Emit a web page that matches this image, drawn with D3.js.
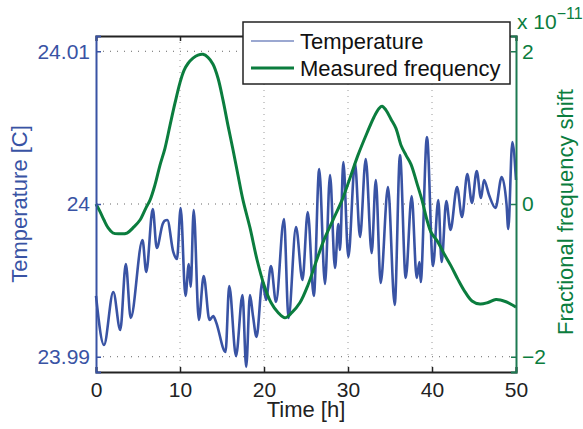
<!DOCTYPE html>
<html>
<head>
<meta charset="utf-8">
<script src="https://cdn.jsdelivr.net/npm/d3@7"></script>
<style>
  body { margin: 0; background: #fff; }
  text { font-family: "Liberation Sans", Arial, Helvetica, sans-serif; }
</style>
</head>
<body>
<div id="chart"></div>
<script>
// temperature trace (time in h, temperature in C)
const tempTime = [0, 0.95, 2.06, 2.89, 3.55, 4.13, 5.54, 5.98, 6.76, 7.23, 7.94, 8.15, 8.49, 9.20, 9.64,
  10.08, 10.65, 11.05, 11.27, 11.63, 12.24, 12.82, 13.51, 13.96, 14.29, 15.42, 15.86, 16.67, 17.44, 17.88,
  18.33, 18.69, 19.11, 19.82, 20.24, 20.83, 21.43, 22.38, 22.92, 23.81, 24.58, 25.21, 25.93, 26.57, 27.26,
  27.86, 28.45, 28.85, 29.05, 29.44, 30.04, 30.83, 31.43, 32.11, 32.82, 33.31, 33.89, 34.76, 35.56, 36.19,
  36.87, 37.58, 38.18, 38.51, 38.65, 39.40, 40.12, 40.75, 41.15, 41.70, 42.20, 42.98, 43.57, 44.20, 44.76,
  45.32, 45.83, 46.19, 46.79, 47.56, 48.30, 48.87, 49.08, 49.56, 50];
const tempValue = [23.99398, 23.99077, 23.99424, 23.99175, 23.99607, 23.99254, 23.99764, 23.99555, 23.99967, 23.99712,
  23.99869, 23.99889, 23.99895, 23.99686, 23.99640, 23.99974, 23.99398, 23.99607, 23.99457, 23.99961,
  23.99241, 23.99529, 23.99241, 23.99267, 23.99228, 23.99031, 23.99463, 23.99005, 23.99404, 23.98933,
  23.99404, 23.99267, 23.99130, 23.99496, 23.99372, 23.99594, 23.99359, 23.99902, 23.99254, 23.99849,
  23.99503, 23.99948, 23.99398, 24.00229, 23.99476, 24.00190, 23.99581, 23.99869, 23.99699, 24.00275,
  23.99653, 24.00268, 23.99784, 24.00295, 23.99679, 24.00157, 23.99483, 24.00111, 23.99339, 24.00321,
  23.99516, 24.00052, 23.99516, 23.99620, 23.99489, 24.00439, 23.99594, 24.00026, 23.99620, 24.00020,
  23.99830, 24.00111, 23.99915, 24.00196, 24.00007, 24.00216, 24.00039, 24.00157, 24.00059, 23.99974,
  24.00177, 24.00000, 23.99836, 24.00406, 24.00157];

// measured fractional frequency shift (units of 1e-11)
const freqTime = [0, 0.48, 0.95, 1.43, 2.02, 2.86, 3.69, 4.52, 5.24, 5.95, 6.43, 7.02, 7.62, 8.21, 8.81,
  9.40, 10.0, 10.48, 10.95, 11.55, 12.14, 12.74, 13.33, 13.93, 14.52, 15.12, 15.71, 16.31, 16.90, 17.50,
  18.33, 19.17, 20.0, 20.83, 21.67, 22.5, 23.33, 24.29, 25.24, 26.19, 27.14, 28.21, 29.29, 30.24, 31.19,
  32.26, 33.10, 33.69, 34.05, 34.52, 35.12, 35.71, 36.31, 36.90, 37.50, 38.21, 38.81, 39.40, 39.88, 40.60,
  41.43, 42.26, 43.10, 43.93, 44.76, 45.71, 46.67, 47.62, 48.81, 49.52, 50];
const freqValue = [0, -0.10, -0.21, -0.31, -0.38, -0.39, -0.38, -0.30, -0.21, -0.05, 0.05, 0.25, 0.51, 0.73, 1.03,
  1.32, 1.59, 1.75, 1.84, 1.91, 1.95, 1.96, 1.92, 1.83, 1.65, 1.36, 1.03, 0.71, 0.38, 0.05,
  -0.31, -0.73, -1.06, -1.29, -1.42, -1.49, -1.42, -1.29, -1.06, -0.76, -0.47, -0.21, 0.05, 0.34, 0.64,
  0.93, 1.14, 1.25, 1.28, 1.23, 1.11, 0.99, 0.77, 0.64, 0.52, 0.27, 0.05, -0.21, -0.37, -0.48,
  -0.65, -0.81, -0.99, -1.15, -1.27, -1.31, -1.29, -1.25, -1.28, -1.32, -1.35];

const xTicks = [0, 10, 20, 30, 40, 50];
const tempTicks = [23.99, 24, 24.01];
const freqTicks = [-2, 0, 2];
const legendLabels = ["Temperature", "Measured frequency"];

const blue = "#3953a4", green = "#0b7d3e", axisGreen = "#1d7a52";
const width = 583, height = 429;
const margin = {top: 36, right: 67, bottom: 57, left: 96};
const iw = width - margin.left - margin.right,
      ih = height - margin.top - margin.bottom;

const svg = d3.select("#chart").append("svg")
  .attr("width", width)
  .attr("height", height);

const g = svg.append("g")
  .attr("transform", `translate(${margin.left},${margin.top})`);

const x = d3.scaleLinear().domain([0, 50]).range([0, iw]);
const yT = d3.scaleLinear().domain([23.989, 24.011]).range([ih, 0]);
const yF = d3.scaleLinear().domain([-2.2, 2.2]).range([ih, 0]);

// grid
g.append("g").selectAll("line").data(xTicks.slice(1, -1)).join("line")
  .attr("x1", d => x(d)).attr("x2", d => x(d))
  .attr("y1", 0).attr("y2", ih)
  .attr("stroke", "#9a9a9a").attr("stroke-dasharray", "1,5");
g.append("g").selectAll("line").data(tempTicks).join("line")
  .attr("x1", 0).attr("x2", iw)
  .attr("y1", d => yT(d)).attr("y2", d => yT(d))
  .attr("stroke", "#666").attr("stroke-dasharray", "1,6");

// data lines
const tempData = tempTime.map((t, i) => [t, tempValue[i]]);
const freqData = freqTime.map((t, i) => [t, freqValue[i]]);

g.append("path")
  .datum(tempData)
  .attr("fill", "none")
  .attr("stroke", blue)
  .attr("stroke-width", 2.6)
  .attr("stroke-linejoin", "round")
  .attr("d", d3.line().curve(d3.curveMonotoneX).x(d => x(d[0])).y(d => yT(d[1])));

g.append("path")
  .datum(freqData)
  .attr("fill", "none")
  .attr("stroke", green)
  .attr("stroke-width", 3)
  .attr("d", d3.line().curve(d3.curveCatmullRom).x(d => x(d[0])).y(d => yF(d[1])));

// axes
const xBottom = g.append("g")
  .attr("transform", `translate(0,${ih})`)
  .call(d3.axisBottom(x).tickValues(xTicks).tickSize(-5).tickPadding(10));
const xTop = g.append("g")
  .call(d3.axisTop(x).tickValues(xTicks).tickSize(-5).tickFormat(""));
const yLeft = g.append("g")
  .call(d3.axisLeft(yT).tickValues(tempTicks).tickSize(-5).tickPadding(6).tickFormat(d3.format("")));
const yRight = g.append("g")
  .attr("transform", `translate(${iw},0)`)
  .call(d3.axisRight(yF).tickValues(freqTicks).tickSize(-5).tickPadding(6)
    .tickFormat(d => d < 0 ? "\u2212" + Math.abs(d) : d));

[xBottom, xTop].forEach(a => {
  a.select(".domain").attr("stroke", "#222").attr("stroke-width", 2);
  a.selectAll(".tick line").attr("stroke", "#222").attr("stroke-width", 1.5);
});
xBottom.selectAll("text").attr("font-size", 21).attr("fill", "#222");
yLeft.select(".domain").attr("stroke", blue).attr("stroke-width", 2);
yLeft.selectAll(".tick line").attr("stroke", blue).attr("stroke-width", 1.5);
yLeft.selectAll("text").attr("font-size", 21).attr("fill", blue);
yRight.select(".domain").attr("stroke", axisGreen).attr("stroke-width", 2);
yRight.selectAll(".tick line").attr("stroke", axisGreen).attr("stroke-width", 1.5);
yRight.selectAll("text").attr("font-size", 21).attr("fill", green);

// axis titles
svg.append("text")
  .attr("x", margin.left + iw / 2).attr("y", 417)
  .attr("text-anchor", "middle").attr("font-size", 22).attr("fill", "#222")
  .text("Time [h]");
svg.append("text")
  .attr("transform", `translate(27,${margin.top + ih / 2}) rotate(-90)`)
  .attr("text-anchor", "middle").attr("font-size", 22).attr("fill", blue)
  .text("Temperature [C]");
svg.append("text")
  .attr("transform", `translate(573,212) rotate(-90)`)
  .attr("text-anchor", "middle").attr("font-size", 22).attr("fill", green)
  .text("Fractional frequency shift");

const expo = svg.append("text")
  .attr("x", 517).attr("y", 29).attr("font-size", 21).attr("fill", green);
expo.append("tspan").text("x 10");
expo.append("tspan").attr("dy", -10).attr("font-size", 16).text("\u221211");

// legend
const legend = svg.append("g").attr("transform", "translate(243,22)");
legend.append("rect")
  .attr("width", 267).attr("height", 62)
  .attr("fill", "#fff").attr("stroke", "#222").attr("stroke-width", 1.5);
const legendItems = legend.selectAll(".legend-item")
  .data(legendLabels)
  .join("g")
  .attr("class", "legend-item")
  .attr("transform", (d, i) => `translate(0,${19 + i * 27})`);
legendItems.append("line")
  .attr("x1", 8).attr("x2", 51)
  .attr("stroke", (d, i) => i === 0 ? blue : green)
  .attr("stroke-width", (d, i) => i === 0 ? 1.2 : 3);
legendItems.append("text")
  .attr("x", 57).attr("y", 8)
  .attr("font-size", 22).attr("fill", "#111")
  .text(d => d);
</script>
</body>
</html>
